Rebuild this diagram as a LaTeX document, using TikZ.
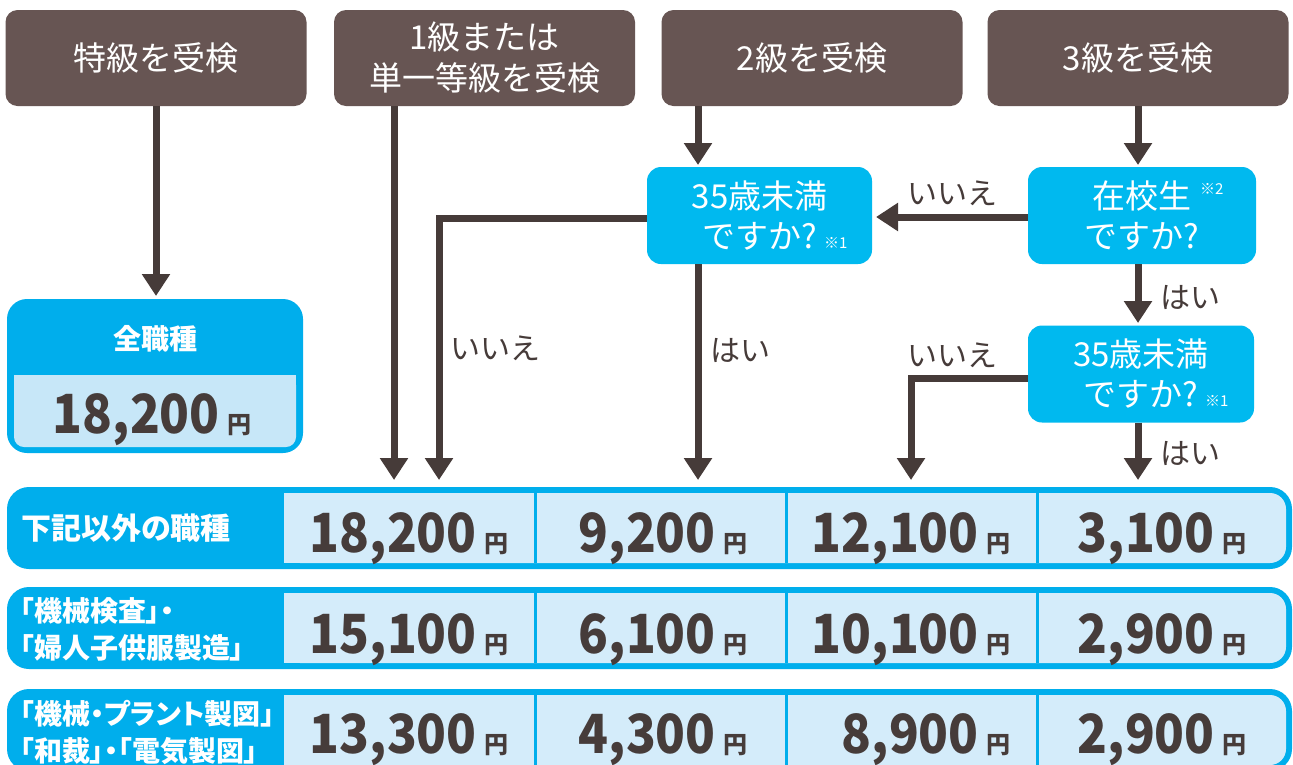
\documentclass[tikz,border=0pt]{standalone}
\usepackage{fontspec}
\usepackage{graphicx}
\setmainfont{Noto Sans CJK JP}
\newfontfamily\jpp[RawFeature=+palt]{Noto Sans CJK JP}
\usetikzlibrary{arrows.meta}
\definecolor{topc}{HTML}{675553}
\definecolor{arrowc}{HTML}{463B39}
\definecolor{cyanT}{HTML}{00AEEC}
\definecolor{cyanQ}{HTML}{00B9EF}
\definecolor{cellc}{HTML}{D4ECFA}
\definecolor{allc}{HTML}{C7E7F8}
\definecolor{numc}{HTML}{463C3A}
\newcommand{\pricetxt}[1]{\scalebox{0.91}[1]{\fontsize{54}{54}\selectfont #1}\hspace{8pt}{\fontsize{24}{24}\selectfont 円}}
\begin{document}
\begin{tikzpicture}[x=1pt,y=-1pt,
  topbox/.style={fill=topc, rounded corners=12pt, minimum width=301pt, minimum height=96pt,
    text=white, font=\fontsize{33}{41}\selectfont, align=center, inner sep=0pt},
  qbox/.style={fill=cyanQ, rounded corners=14pt, minimum height=97pt,
    text=white, font=\fontsize{33}{40}\selectfont, align=center, inner sep=0pt},
  arr/.style={draw=arrowc, line width=7pt, line join=miter, -{Triangle[width=27pt,length=22pt]}},
  lbl/.style={text=arrowc, font=\fontsize{30}{32}\selectfont, inner sep=0pt},
  note/.style={text=white, font=\fontsize{15}{16}\selectfont, inner sep=0pt},
  rowlab/.style={text=white, font=\jpp\bfseries\fontsize{28}{37}\selectfont, align=left, inner sep=0pt, anchor=west},
  num/.style={text=numc, font=\bfseries, inner sep=0pt, anchor=base east},
  divider/.style={draw=cyanT, line width=3pt}
]
\clip (0,0) rectangle (1293,764);
\fill[white] (0,0) rectangle (1293,764);

% top boxes
\node[topbox] (top1) at (156,58) {特級を受検};
\node[topbox] (top2) at (484.5,58) {1級または\\単一等級を受検};
\node[topbox] (top3) at (812,58) {2級を受検};
\node[topbox] (top4) at (1138,58) {3級を受検};

% decision boxes
\node[qbox, minimum width=225pt] (qa) at (759.5,215.5) {35歳未満\\ですか?};
\node[note, anchor=west] (qan) at (824,243) {※1};
\node[qbox, minimum width=228pt] (qb) at (1142,215.5) {在校生\\ですか?};
\node[note, anchor=west] (qbn) at (1200,189) {※2};
\node[qbox, minimum width=226pt] (qc) at (1141,374) {35歳未満\\ですか?};
\node[note, anchor=west] (qcn) at (1205,401) {※1};

% all-trades box
\node[fill=cyanT, rounded corners=20pt, minimum width=296pt, minimum height=154pt, inner sep=0pt] (allbox) at (155,376) {};
\fill[allc, rounded corners=10pt] (14,375) rectangle (296,447);
\fill[allc] (14,375) rectangle (296,400);
\node[text=white, font=\bfseries\fontsize{28}{32}\selectfont, inner sep=0pt] (alllab) at (155,339) {全職種};
\node[num] (allnum) at (252,433) {\pricetxt{18,200}};

% table rows
\foreach \t in {487,587,689}{
  \fill[cyanT, rounded corners=22pt] (7,\t) rectangle (1292,\t+82);
  \fill[cellc, rounded corners=16pt] (284,\t+6) rectangle (1286,\t+76);
  \fill[cellc] (284,\t+6) rectangle (1000,\t+76);
  \draw[divider] (535,\t+6) -- (535,\t+76);
  \draw[divider] (786,\t+6) -- (786,\t+76);
  \draw[divider] (1037,\t+6) -- (1037,\t+76);
}
\node[rowlab, font=\jpp\bfseries\fontsize{30}{37}\selectfont] (r1) at (21,528) {下記以外の職種};
\node[rowlab] (r2) at (20,629) {「機械検査」・\\「婦人子供服製造」};
\node[rowlab] (r3) at (20,732) {「機械・プラント製図」\\「和裁」・「電気製図」};

\node[num] (n11) at (509,552) {\pricetxt{18,200}};
\node[num] (n12) at (748,552) {\pricetxt{9,200}};
\node[num] (n13) at (1011,552) {\pricetxt{12,100}};
\node[num] (n14) at (1247,552) {\pricetxt{3,100}};
\node[num] (n21) at (509,653) {\pricetxt{15,100}};
\node[num] (n22) at (748,653) {\pricetxt{6,100}};
\node[num] (n23) at (1011,653) {\pricetxt{10,100}};
\node[num] (n24) at (1247,653) {\pricetxt{2,900}};
\node[num] (n31) at (509,753) {\pricetxt{13,300}};
\node[num] (n32) at (748,753) {\pricetxt{4,300}};
\node[num] (n33) at (1011,753) {\pricetxt{8,900}};
\node[num] (n34) at (1247,753) {\pricetxt{2,900}};

% connector end points
\coordinate (e0) at (156,296);
\coordinate (e1) at (394,480);
\coordinate (k1) at (439,218);
\coordinate (e2) at (439,480);
\coordinate (e3) at (698,480);
\coordinate (a3) at (698,165);
\coordinate (b4) at (1138,165);
\coordinate (a5) at (876,217);
\coordinate (c1) at (1138,323);
\coordinate (k2) at (911,378);
\coordinate (e4) at (911,480);
\coordinate (e5) at (1138,480);

% connectors
\draw[arr] (top1.south -| e0) -- (e0);
\draw[arr] (top2.south -| e1) -- (e1);
\draw[arr] (qa.west |- k1) -- (k1) -- (e2);
\draw[arr] (qa.south -| e3) -- (e3);
\draw[arr] (top3.south -| a3) -- (a3);
\draw[arr] (top4.south -| b4) -- (b4);
\draw[arr] (qb.west |- a5) -- (a5);
\draw[arr] (qb.south -| c1) -- (c1);
\draw[arr] (qc.west |- k2) -- (k2) -- (e4);
\draw[arr] (qc.south -| e5) -- (e5);

% connector labels
\node[lbl] (l1) at (495,348) {いいえ};
\node[lbl, anchor=west] (l2) at (710,350) {はい};
\node[lbl] (l3) at (952,193) {いいえ};
\node[lbl, anchor=west] (l4) at (1160,297) {はい};
\node[lbl] (l5) at (952,355) {いいえ};
\node[lbl, anchor=west] (l6) at (1160,453) {はい};
\end{tikzpicture}
\end{document}
